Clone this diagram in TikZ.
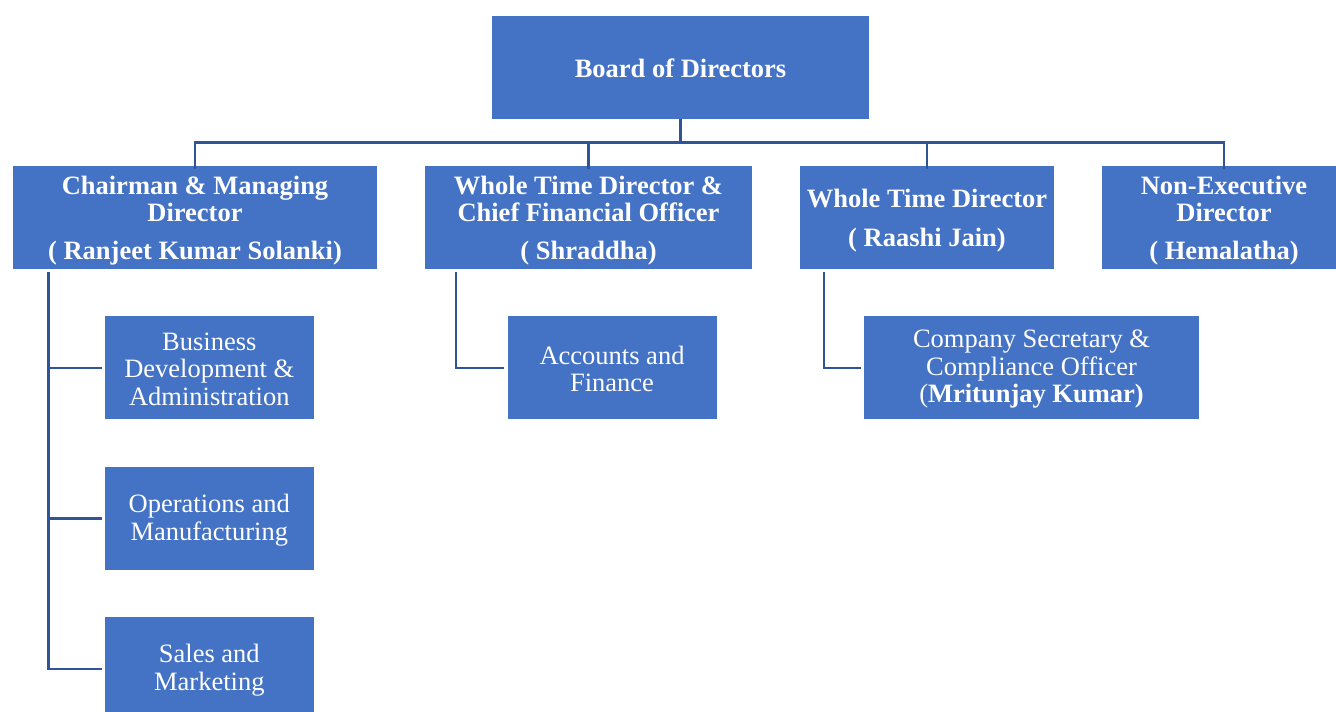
\documentclass[tikz,border=0pt]{standalone}
\usepackage{fontspec}
\setmainfont{Liberation Serif}
\definecolor{boxblue}{RGB}{68,114,196}
\definecolor{lineblue}{RGB}{47,85,151}
\begin{document}
\begin{tikzpicture}[x=1pt,y=-1pt,
  box/.style={fill=boxblue, draw=none, inner sep=0pt, minimum height=103pt},
  hd/.style={inner sep=0pt, text=white, align=center, font=\fontsize{26.5}{27}\selectfont\bfseries},
  sb/.style={inner sep=0pt, text=white, align=center, font=\fontsize{26.5}{27.5}\selectfont},
  conn/.style={draw=lineblue, line width=2.6pt}]
\clip (0,0) rectangle (1336,712);
\fill[white] (0,0) rectangle (1336,712);

% boxes
\node[box, minimum width=377pt] (board) at (680.5,67.5) {};
\node[box, minimum width=364pt] (chair) at (195,217.5) {};
\node[box, minimum width=327pt] (cfo) at (588.5,217.5) {};
\node[box, minimum width=254pt] (wtd) at (927,217.5) {};
\node[box, minimum width=245pt] (ned) at (1224,217.5) {};
\node[box, minimum width=209pt] (bd) at (209.3,367.8) {};
\node[box, minimum width=209pt] (ops) at (209.3,518.5) {};
\node[box, minimum width=209pt] (sales) at (209.3,668.8) {};
\node[box, minimum width=209pt] (acc) at (612,367.8) {};
\node[box, minimum width=335pt] (cs) at (1031.5,367.8) {};

% texts
\node[hd] (boardT) at ([yshift=-1pt]board.center) {Board of Directors};
\node[hd] (chairT) at ([yshift=-3pt]chair.center)
  {Chairman \& Managing\\Director\\[11pt]( Ranjeet Kumar Solanki)};
\node[hd] (cfoT) at ([yshift=-3pt]cfo.center)
  {Whole Time Director \&\\Chief Financial Officer\\[11pt]( Shraddha)};
\node[hd] (wtdT) at ([yshift=-3pt]wtd.center)
  {Whole Time Director\\[11.5pt]( Raashi Jain)};
\node[hd] (nedT) at ([yshift=-3pt]ned.center)
  {Non-Executive\\Director\\[11pt]( Hemalatha)};
\node[sb] (bdT) at ([yshift=-1.5pt]bd.center)
  {Business\\Development \&\\Administration};
\node[sb] (opsT) at ([yshift=-1.5pt]ops.center)
  {Operations and\\Manufacturing};
\node[sb] (salesT) at ([yshift=-1.5pt]sales.center)
  {Sales and\\Marketing};
\node[sb] (accT) at ([yshift=-1pt]acc.center)
  {Accounts and\\Finance};
\node[sb] (csT) at ([yshift=-1.5pt]cs.center)
  {Company Secretary \&\\Compliance Officer\\(\textbf{Mritunjay Kumar)}};

% connectors top
\coordinate (bus) at (680.5,142.5);
\draw[conn] (board.south) -- (bus);
\draw[conn] ([yshift=-3pt]chair.north) |- (bus) -| ([yshift=-3pt]ned.north);
\draw[conn] ([yshift=-3pt]cfo.north) -- (cfo.north |- bus);
\draw[conn] ([yshift=-3pt]wtd.north) -- (wtd.north |- bus);

% connectors to third level
\coordinate (cv) at (48.5,272);
\draw[conn] (cv) |- ([xshift=-3pt]bd.west);
\draw[conn] (cv) |- ([xshift=-3pt]ops.west);
\draw[conn] (cv) |- ([xshift=-3pt]sales.west);
\coordinate (fv) at (456,272);
\draw[conn] (fv) |- ([xshift=-3pt]acc.west);
\coordinate (wv) at (824,272);
\draw[conn] (wv) |- ([xshift=-3pt]cs.west);
\end{tikzpicture}
\end{document}
